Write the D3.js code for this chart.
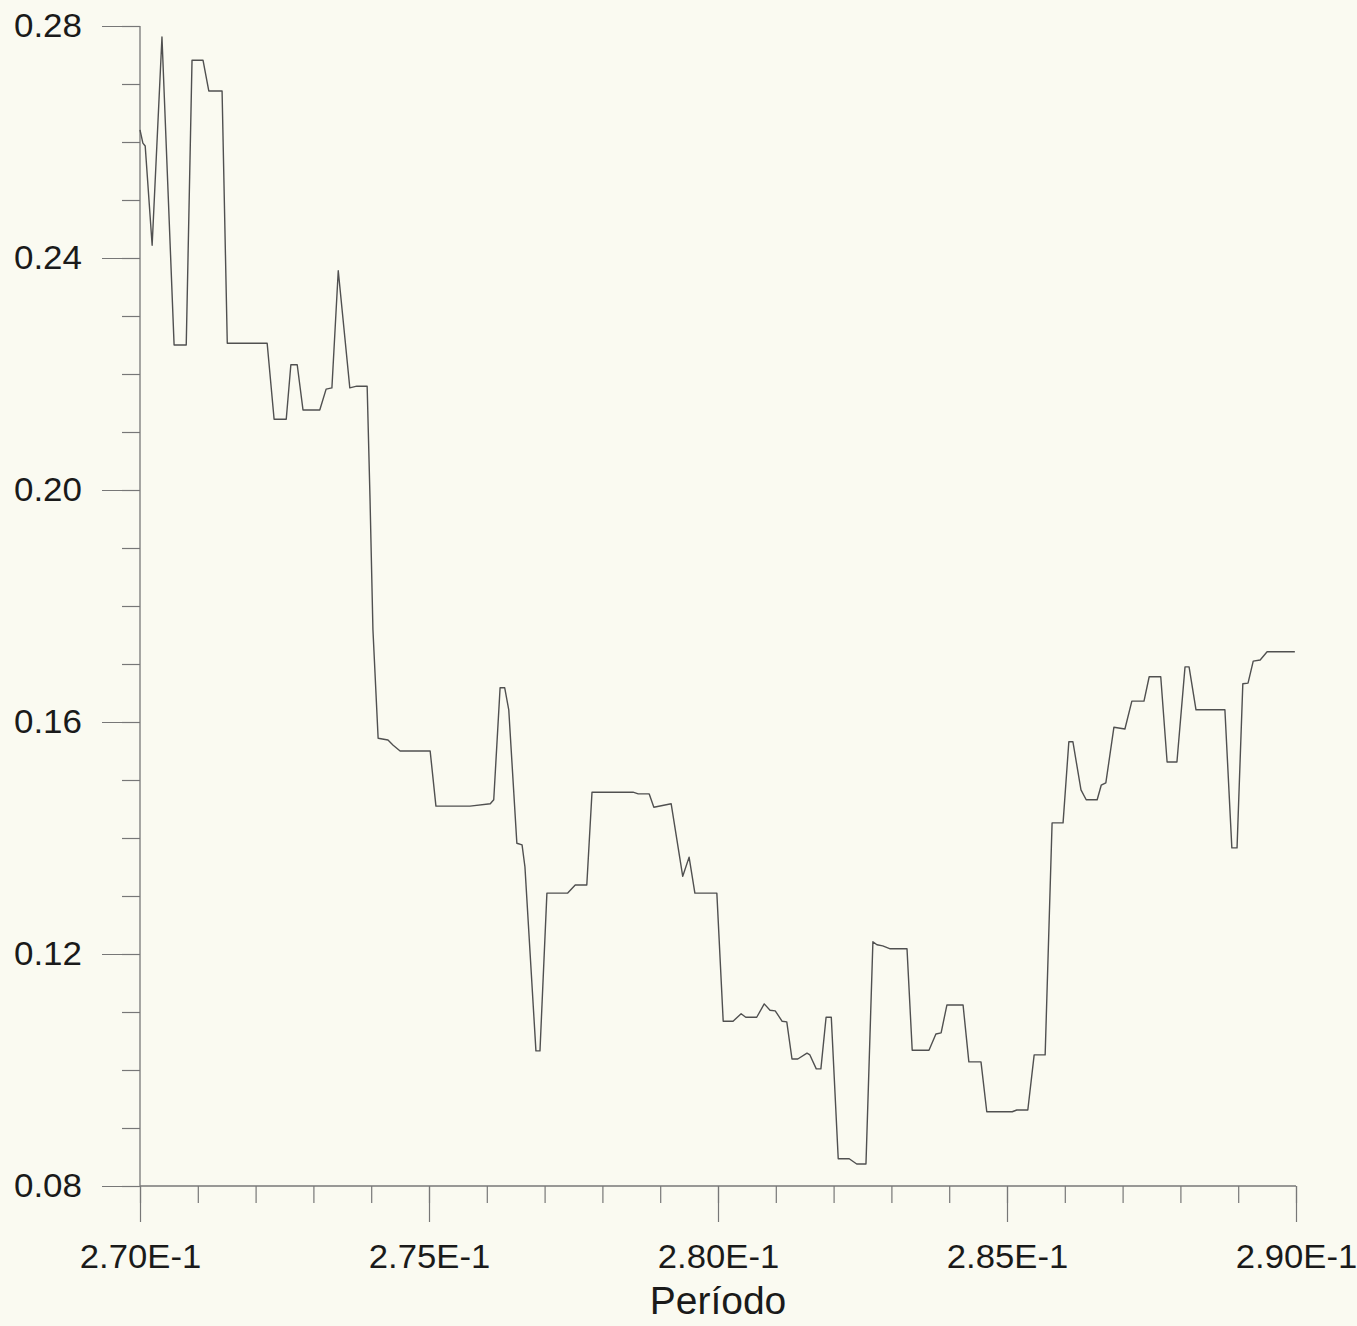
<!DOCTYPE html>
<html>
<head>
<meta charset="utf-8">
<script src="https://cdn.jsdelivr.net/npm/d3@7"></script>
<style>
  html, body { margin: 0; padding: 0; background: #fafaf1; }
  svg { display: block; }
</style>
</head>
<body>
<svg id="chart" width="1357" height="1326"></svg>
<script>
// ---- data ----
const periodo = [
  0.27000, 0.27005, 0.27009, 0.27021, 0.27038, 0.27059, 0.27080, 0.27090, 0.27109, 0.27119,
  0.27142, 0.27151, 0.27220, 0.27232, 0.27253, 0.27261, 0.27272, 0.27282, 0.27311, 0.27322,
  0.27332, 0.27343, 0.27363, 0.27375, 0.27393, 0.27398, 0.27403, 0.27412, 0.27429, 0.27438,
  0.27450, 0.27502, 0.27512, 0.27571, 0.27606, 0.27612, 0.27623, 0.27631, 0.27638, 0.27652,
  0.27661, 0.27666, 0.27685, 0.27692, 0.27704, 0.27740, 0.27753, 0.27773, 0.27782, 0.27853,
  0.27862, 0.27881, 0.27889, 0.27919, 0.27939, 0.27950, 0.27960, 0.27998, 0.28009, 0.28026,
  0.28040, 0.28048, 0.28067, 0.28080, 0.28090, 0.28099, 0.28111, 0.28119, 0.28128, 0.28138,
  0.28154, 0.28159, 0.28170, 0.28178, 0.28187, 0.28196, 0.28208, 0.28227, 0.28240, 0.28256,
  0.28268, 0.28275, 0.28285, 0.28298, 0.28327, 0.28336, 0.28365, 0.28377, 0.28386, 0.28396,
  0.28424, 0.28434, 0.28455, 0.28465, 0.28509, 0.28517, 0.28536, 0.28547, 0.28566, 0.28578,
  0.28597, 0.28607, 0.28614, 0.28628, 0.28637, 0.28656, 0.28663, 0.28671, 0.28685, 0.28704,
  0.28716, 0.28737, 0.28746, 0.28766, 0.28777, 0.28794, 0.28808, 0.28815, 0.28827, 0.28877,
  0.28889, 0.28898, 0.28908, 0.28917, 0.28926, 0.28938, 0.28950, 0.28998
];
const valor = [
  0.2621, 0.2598, 0.2593, 0.2422, 0.2781, 0.2250, 0.2250, 0.2741, 0.2741, 0.2688,
  0.2688, 0.2253, 0.2253, 0.2122, 0.2122, 0.2216, 0.2216, 0.2138, 0.2138, 0.2174,
  0.2176, 0.2378, 0.2176, 0.2179, 0.2179, 0.1983, 0.1759, 0.1572, 0.1569, 0.1560,
  0.1550, 0.1550, 0.1455, 0.1455, 0.1459, 0.1466, 0.1659, 0.1659, 0.1621, 0.1391,
  0.1388, 0.1350, 0.1033, 0.1033, 0.1305, 0.1305, 0.1319, 0.1319, 0.1479, 0.1479,
  0.1476, 0.1476, 0.1453, 0.1459, 0.1334, 0.1367, 0.1305, 0.1305, 0.1084, 0.1084,
  0.1097, 0.1091, 0.1091, 0.1114, 0.1103, 0.1102, 0.1084, 0.1083, 0.1019, 0.1019,
  0.1029, 0.1026, 0.1002, 0.1002, 0.1091, 0.1091, 0.0847, 0.0847, 0.0838, 0.0838,
  0.1221, 0.1216, 0.1214, 0.1209, 0.1209, 0.1034, 0.1034, 0.1062, 0.1064, 0.1112,
  0.1112, 0.1014, 0.1014, 0.0928, 0.0928, 0.0931, 0.0931, 0.1026, 0.1026, 0.1426,
  0.1426, 0.1566, 0.1566, 0.1483, 0.1466, 0.1466, 0.1491, 0.1495, 0.1591, 0.1588,
  0.1636, 0.1636, 0.1678, 0.1678, 0.1531, 0.1531, 0.1695, 0.1695, 0.1621, 0.1621,
  0.1383, 0.1383, 0.1666, 0.1667, 0.1705, 0.1707, 0.1721, 0.1721
];
const xMajorTicks = [0.270, 0.275, 0.280, 0.285, 0.290];
const xTickLabels = ["2.70E-1", "2.75E-1", "2.80E-1", "2.85E-1", "2.90E-1"];
const yMajorTicks = [0.08, 0.12, 0.16, 0.20, 0.24, 0.28];
const yTickLabels = ["0.08", "0.12", "0.16", "0.20", "0.24", "0.28"];
const xLabel = "Período";

// ---- layout ----
const svg = d3.select("#chart");
const mLeft = 140, mRight = 1296, mTop = 26, mBottom = 1186;
const x = d3.scaleLinear().domain([0.270, 0.290]).range([mLeft, mRight]);
const y = d3.scaleLinear().domain([0.08, 0.28]).range([mBottom, mTop]);

svg.append("rect").attr("width", 1357).attr("height", 1326).attr("fill", "#fafaf1");

const axisColor = "#777";
const textColor = "#1a1a1a";
const fontFam = "'Liberation Sans', Arial, sans-serif";

// X axis: minor ticks every 0.001, major every 0.005
const xMinor = d3.range(0, 21).map(i => 0.270 + i * 0.001);
const xAxisMinor = d3.axisBottom(x).tickValues(xMinor).tickSize(17).tickFormat("");
const gxm = svg.append("g").attr("transform", `translate(0,${mBottom})`).call(xAxisMinor);
const xAxisMajor = d3.axisBottom(x).tickValues(xMajorTicks).tickSize(36)
  .tickFormat((d, i) => xTickLabels[i]).tickPadding(23);
const gx = svg.append("g").attr("transform", `translate(0,${mBottom})`).call(xAxisMajor);

// Y axis: minor every 0.01, major every 0.04
const yMinor = d3.range(0, 21).map(i => 0.08 + i * 0.01);
const yAxisMinor = d3.axisLeft(y).tickValues(yMinor).tickSize(18).tickFormat("");
const gym = svg.append("g").attr("transform", `translate(${mLeft},0)`).call(yAxisMinor);
const yAxisMajor = d3.axisLeft(y).tickValues(yMajorTicks).tickSize(38)
  .tickFormat((d, i) => yTickLabels[i]).tickPadding(20);
const gy = svg.append("g").attr("transform", `translate(${mLeft},0)`).call(yAxisMajor);

[gxm, gx, gym, gy].forEach(g => {
  g.select(".domain").attr("stroke", axisColor).attr("stroke-width", 1.3);
  g.selectAll(".tick line").attr("stroke", axisColor).attr("stroke-width", 1.2);
});
gym.select(".domain").remove();
gxm.select(".domain").remove();
gy.select(".domain").attr("d", `M0,${mBottom}V${mTop}`);
gx.select(".domain").attr("d", `M${mLeft},0H${mRight}`);

gx.selectAll(".tick text")
  .attr("font-family", fontFam).attr("font-size", 33).attr("fill", textColor);
gy.selectAll(".tick text")
  .attr("font-family", fontFam).attr("font-size", 33).attr("fill", textColor);

// stretch glyphs slightly horizontally like the scanned font
gx.selectAll(".tick text").each(function() {
  const w = this.getComputedTextLength();
  d3.select(this).attr("textLength", w * 1.05).attr("lengthAdjust", "spacingAndGlyphs");
});
gy.selectAll(".tick text").each(function() {
  const w = this.getComputedTextLength();
  d3.select(this).attr("textLength", w * 1.06).attr("lengthAdjust", "spacingAndGlyphs");
});

svg.append("text")
  .attr("x", (mLeft + mRight) / 2).attr("y", 1314)
  .attr("text-anchor", "middle")
  .attr("font-family", fontFam).attr("font-size", 39).attr("fill", textColor)
  .text(xLabel);

// ---- line ----
const pts = periodo.map((p, i) => [p, valor[i]]);
const line = d3.line().x(d => x(d[0])).y(d => y(d[1]));
svg.append("path")
  .datum(pts)
  .attr("d", line)
  .attr("fill", "none")
  .attr("stroke", "#505050")
  .attr("stroke-width", 1.4)
  .attr("stroke-linejoin", "round");
</script>
</body>
</html>
